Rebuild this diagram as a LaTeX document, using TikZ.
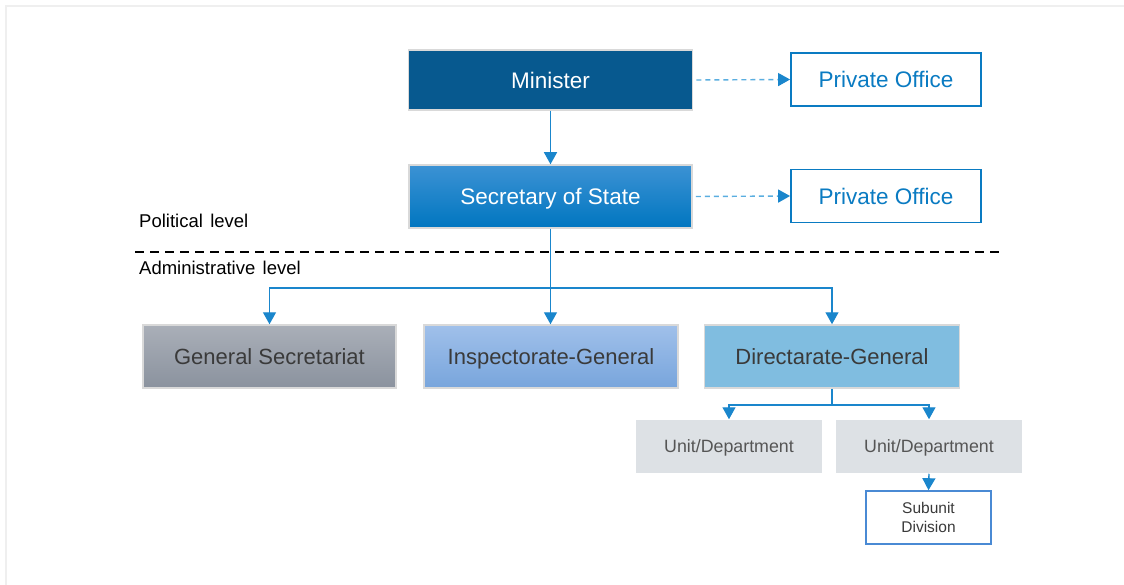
\documentclass[tikz,border=0pt]{standalone}
\usepackage{fontspec}
\setmainfont{Liberation Sans}
\usetikzlibrary{arrows.meta}
\definecolor{minblue}{HTML}{07598F}
\definecolor{sectop}{HTML}{3C92D4}
\definecolor{secbot}{HTML}{0076C0}
\definecolor{poblue}{HTML}{0A7BC2}
\definecolor{connblue}{HTML}{1A86CC}
\definecolor{dashblue}{HTML}{5AAEE0}
\definecolor{gstop}{HTML}{AAAFB8}
\definecolor{gsbot}{HTML}{8A929E}
\definecolor{igtop}{HTML}{A0C0EA}
\definecolor{igbot}{HTML}{78A5DC}
\definecolor{dgfill}{HTML}{80BDE0}
\definecolor{unitfill}{HTML}{DDE1E5}
\definecolor{subblue}{HTML}{4A8AD4}
\definecolor{boxedge}{HTML}{D9D9D9}
\definecolor{frame}{HTML}{EFEFEF}
\definecolor{darktext}{HTML}{3A3A3A}
\definecolor{unittext}{HTML}{555555}
\tikzset{
  box/.style={draw=boxedge, line width=1.5pt, rectangle, inner sep=0pt, align=center},
  big/.style={font=\fontsize{22.5}{26}\selectfont, text height=16.1pt, text depth=0pt},
  mid/.style={font=\fontsize{22}{26}\selectfont, text height=15.8pt, text depth=0pt},
  small/.style={font=\fontsize{17.8}{21}\selectfont, text height=12.8pt, text depth=0pt},
  pobox/.style={draw=poblue, fill=white, line width=1.8pt, rectangle, inner sep=0pt,
    minimum width=190pt, minimum height=53pt, text=poblue, big},
  conn/.style={draw=connblue, line width=1.4pt, -{Triangle[width=13pt,length=12pt]}},
  dconn/.style={draw=dashblue, line width=1.4pt, dash pattern=on 5pt off 4pt,
    -{Triangle[width=13pt,length=12pt,color=connblue,fill=connblue]}},
  lvl/.style={anchor=west, inner sep=0pt, font=\fontsize{18.5}{22}\selectfont, text=black}
}
\begin{document}
\begin{tikzpicture}[x=1pt,y=-1pt]
\useasboundingbox (0,0) rectangle (1124,585);
\fill[white] (0,0) rectangle (1124,585);
\draw[frame, line width=2.5pt] (6,585) -- (6,6) -- (1124,6);

% top level
\node[box, fill=minblue, text=white, minimum width=284pt, minimum height=60pt, big]
  (min) at (550.5,80) {Minister};
\node[pobox] (po1) at (886,79.5) {Private Office};
\node[box, top color=sectop, bottom color=secbot, text=white, minimum width=283pt,
  minimum height=63pt, big] (sec) at (550.5,196.5) {Secretary of State};
\node[pobox] (po2) at (886,196) {Private Office};

% levels
\node[lvl] (pol) at (139,221) {Political\hspace{0.4em}level};
\node[lvl] (adm) at (139,268) {Administrative\hspace{0.4em}level};
\coordinate (dl) at (135,252);
\coordinate (dr) at (1000,252);
\draw[black, line width=1.5pt, dash pattern=on 9pt off 6pt] (dl) -- (dr);

% second level
\node[box, top color=gstop, bottom color=gsbot, text=darktext, minimum width=253pt,
  minimum height=63pt, mid] (gs) at (269.5,356.5) {General Secretariat};
\node[box, top color=igtop, bottom color=igbot, text=darktext, minimum width=254pt,
  minimum height=63pt, mid] (ig) at (551,356.5) {Inspectorate-General};
\node[box, fill=dgfill, text=darktext, minimum width=255pt,
  minimum height=63pt, mid] (dg) at (832,356.5) {Directarate-General};

% units
\node[box, draw=none, fill=unitfill, text=unittext, minimum width=186pt,
  minimum height=53pt, small] (u1) at (729,446.5) {Unit/Department};
\node[box, draw=none, fill=unitfill, text=unittext, minimum width=186pt,
  minimum height=53pt, small] (u2) at (929,446.5) {Unit/Department};
\node[box, draw=subblue, fill=white, line width=1.6pt, text=darktext, minimum width=125pt,
  minimum height=53pt, font=\fontsize{15.5}{19}\selectfont] (sub) at (928.5,517.5) {Subunit\\Division};

% connectors
\draw[dconn] ([xshift=3pt]min.east) -- (po1.west);
\draw[dconn] ([xshift=3pt]sec.east) -- (po2.west);
\draw[conn] (min.south) -- (sec.north);
\coordinate (split) at (550.5,288);
\draw[conn] (sec.south) -- (ig.north -| sec.south);
\draw[conn] (split) -| (gs.north);
\draw[conn] (split) -| (dg.north);
\coordinate (dsplit) at (832,405);
\draw[draw=connblue, line width=1.4pt] (dg.south) -- (dsplit);
\draw[conn] (dsplit) -| (u1.north);
\draw[conn] (dsplit) -| (u2.north);
\draw[conn] (u2.south) -- (sub.north);
\end{tikzpicture}
\end{document}
